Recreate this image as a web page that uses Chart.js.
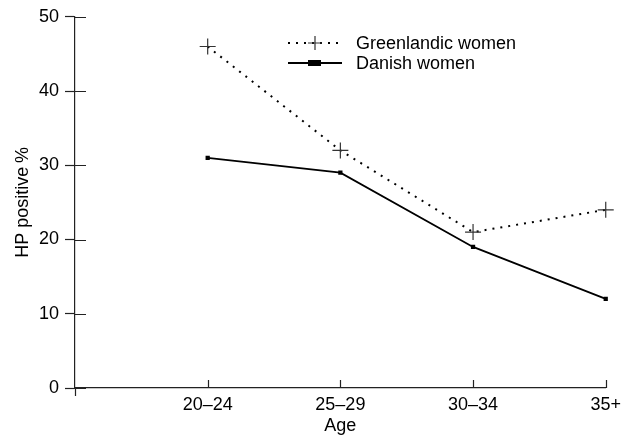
<!DOCTYPE html>
<html>
<head>
<meta charset="utf-8">
<script src="https://cdn.jsdelivr.net/npm/chart.js@4.4.1/dist/chart.umd.min.js"></script>
<style>
  html, body { margin: 0; padding: 0; background: #fff; }
  #wrap { width: 627px; height: 437px; }
</style>
</head>
<body>
<div id="wrap"><canvas id="hpChart" width="627" height="437"></canvas></div>
<script>
// age groups (first slot is empty, the axis starts one step before 20-24)
const ageGroups = ['', '20–24', '25–29', '30–34', '35+'];
const greenlandic = [null, 46, 32, 21, 24];
const danish = [null, 31, 29, 19, 12];
const yTicks = [0, 10, 20, 30, 40, 50];

const FONT = 'Liberation Sans, Arial, Helvetica, sans-serif';
const INK = '#222';

// inward tick marks + small legend, drawn from the scales
const axisExtras = {
    id: 'axisExtras',
    afterDraw(chart) {
        const c = chart.ctx;
        const xs = chart.scales.x, ys = chart.scales.y;
        const area = chart.chartArea;
        c.save();
        c.strokeStyle = INK;
        c.lineWidth = 1.2;
        c.beginPath();
        yTicks.forEach(v => {
            const y = Math.round(ys.getPixelForValue(v)) + 0.5;
            c.moveTo(area.left, y);
            c.lineTo(area.left + 11, y);
        });
        for (let i = 1; i < ageGroups.length; i++) {
            const x = Math.round(xs.getPixelForValue(i)) + 0.5;
            c.moveTo(x, area.bottom);
            c.lineTo(x, area.bottom - 8);
        }
        // axis runs a little below zero
        c.moveTo(area.left + 0.5, area.bottom);
        c.lineTo(area.left + 0.5, area.bottom + 8);
        c.stroke();

        // legend
        const items = chart.data.datasets;
        c.font = '18px ' + FONT;
        c.textBaseline = 'middle';
        c.fillStyle = '#000';
        items.forEach((ds, i) => {
            const y = 43 + i * 20;
            c.strokeStyle = '#000';
            c.lineWidth = ds.borderWidth;
            c.setLineDash(ds.borderDash || []);
            c.beginPath();
            c.moveTo(288, y);
            c.lineTo(342, y);
            c.stroke();
            c.setLineDash([]);
            if (ds.pointStyle === 'cross') {
                c.strokeStyle = '#333';
                c.lineWidth = 1.2;
                c.beginPath();
                c.moveTo(315 - 7, y); c.lineTo(315 + 7, y);
                c.moveTo(315, y - 7); c.lineTo(315, y + 7);
                c.stroke();
            } else {
                c.fillRect(308, y - 3, 13, 6);
            }
            c.fillText(ds.label, 356, y + 1);
        });
        c.restore();
    }
};

new Chart(document.querySelector('#hpChart').getContext('2d'), {
    type: 'line',
    data: {
        labels: ageGroups,
        datasets: [
            {
                label: 'Greenlandic women',
                data: greenlandic,
                borderColor: '#000',
                borderWidth: 2,
                borderDash: [2, 6],
                pointStyle: 'cross',
                pointRadius: 8,
                pointBorderWidth: 1.2,
                pointBorderColor: '#333',
                fill: false,
                tension: 0
            },
            {
                label: 'Danish women',
                data: danish,
                borderColor: '#000',
                borderWidth: 1.8,
                pointStyle: 'rect',
                pointRadius: 3,
                pointBackgroundColor: '#000',
                pointBorderColor: '#000',
                pointBorderWidth: 0,
                fill: false,
                tension: 0
            }
        ]
    },
    options: {
        responsive: false,
        animation: false,
        events: [],
        layout: { padding: { top: 14, right: 18, left: 0, bottom: 0 } },
        plugins: {
            legend: { display: false },
            tooltip: { enabled: false }
        },
        scales: {
            x: {
                offset: false,
                grid: { display: false, drawTicks: false },
                border: { display: true, color: INK, width: 1.2 },
                ticks: {
                    color: '#000',
                    font: { family: FONT, size: 18 },
                    padding: 6,
                    maxRotation: 0,
                    autoSkip: false
                },
                title: {
                    display: true,
                    text: 'Age',
                    color: '#000',
                    font: { family: FONT, size: 18 },
                    padding: { top: 0, bottom: 0 }
                },
                afterFit(s) { s.height = 49; }
            },
            y: {
                min: 0,
                max: 50,
                afterBuildTicks(s) { s.ticks = yTicks.map(v => ({ value: v })); },
                grid: {
                    drawOnChartArea: false,
                    drawTicks: true,
                    tickLength: 10,
                    tickWidth: 1.2,
                    tickColor: INK
                },
                border: { display: true, color: INK, width: 1.2 },
                ticks: {
                    color: '#000',
                    font: { family: FONT, size: 18 },
                    padding: 6
                },
                title: {
                    display: true,
                    text: 'HP positive\u2009%',
                    color: '#000',
                    font: { family: FONT, size: 18 },
                    padding: { top: 12, bottom: 0 }
                },
                afterFit(s) { s.width = 75; }
            }
        }
    },
    plugins: [axisExtras]
});
</script>
</body>
</html>
